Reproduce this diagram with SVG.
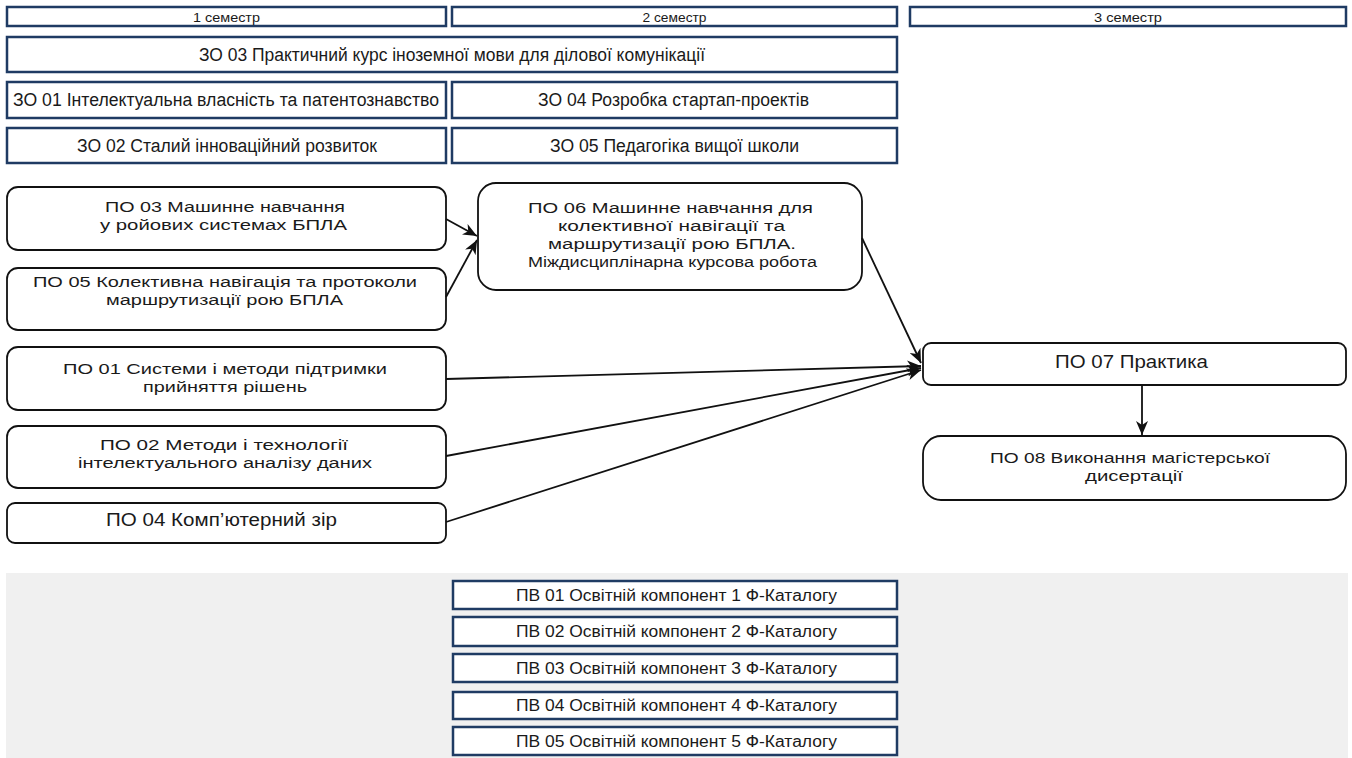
<svg xmlns="http://www.w3.org/2000/svg" width="1352" height="758" viewBox="0 0 1352 758">
<style>
text{font-family:"Liberation Sans",Arial,sans-serif;fill:#1a1a1a;text-anchor:middle}
.sq{fill:#fff;stroke:#1f3b63;stroke-width:2.5}
.rn{fill:#fff;stroke:#111;stroke-width:1.8}
.sem{font-size:13px}
.zo{font-size:18px}
.po{font-size:15.5px}
.po1{font-size:17.5px}
.pv{font-size:16px}
.cn{stroke:#111;stroke-width:1.8;fill:none;marker-end:url(#ah)}
</style>
<defs>
<marker id="ah" markerUnits="userSpaceOnUse" markerWidth="16" markerHeight="12" refX="14" refY="6" orient="auto">
<path d="M0,0 L14,6 L0,12 L4,6 Z" fill="#111"/>
</marker>
</defs>
<rect x="0" y="0" width="1352" height="758" fill="#fff"/>
<rect id="pv-band" x="6" y="573" width="1342" height="185" fill="#f0f0f0"/>

<g id="sem1"><rect class="sq" x="7" y="7" width="439" height="19"/><text class="sem" x="226.5" y="21.5" textLength="67" lengthAdjust="spacingAndGlyphs">1 семестр</text></g>
<g id="sem2"><rect class="sq" x="452" y="7" width="445" height="19"/><text class="sem" x="674.5" y="21.5" textLength="64" lengthAdjust="spacingAndGlyphs">2 семестр</text></g>
<g id="sem3"><rect class="sq" x="910" y="7" width="436" height="19"/><text class="sem" x="1128" y="21.5" textLength="68" lengthAdjust="spacingAndGlyphs">3 семестр</text></g>

<g id="zo03"><rect class="sq" x="7" y="37" width="890" height="35"/><text class="zo" x="452" y="61" textLength="506" lengthAdjust="spacingAndGlyphs">ЗО 03 Практичний курс іноземної мови для ділової комунікації</text></g>
<g id="zo01"><rect class="sq" x="7" y="82" width="439" height="36"/><text class="zo" x="226" y="106" textLength="426" lengthAdjust="spacingAndGlyphs">ЗО 01  Інтелектуальна власність та патентознавство</text></g>
<g id="zo04"><rect class="sq" x="452" y="82" width="445" height="36"/><text class="zo" x="673.5" y="106" textLength="271" lengthAdjust="spacingAndGlyphs">ЗО 04  Розробка стартап-проектів</text></g>
<g id="zo02"><rect class="sq" x="7" y="128" width="439" height="35"/><text class="zo" x="227" y="152" textLength="300" lengthAdjust="spacingAndGlyphs">ЗО 02 Сталий інноваційний розвиток</text></g>
<g id="zo05"><rect class="sq" x="452" y="128" width="445" height="35"/><text class="zo" x="674.5" y="152" textLength="249" lengthAdjust="spacingAndGlyphs">ЗО 05 Педагогіка вищої школи</text></g>

<g id="po03"><rect class="rn" x="7" y="187" width="439" height="63" rx="11"/><text class="po" x="225" y="212" textLength="240" lengthAdjust="spacingAndGlyphs">ПО 03 Машинне навчання</text><text class="po" x="223.5" y="230" textLength="247" lengthAdjust="spacingAndGlyphs">у ройових системах БПЛА</text></g>
<g id="po05"><rect class="rn" x="7" y="268" width="439" height="62" rx="11"/><text class="po" x="225" y="287" textLength="384" lengthAdjust="spacingAndGlyphs">ПО 05 Колективна навігація та протоколи</text><text class="po" x="224.5" y="305" textLength="237" lengthAdjust="spacingAndGlyphs">маршрутизації рою БПЛА</text></g>
<g id="po01"><rect class="rn" x="7" y="347" width="439" height="63" rx="11"/><text class="po" x="225" y="374" textLength="324" lengthAdjust="spacingAndGlyphs">ПО 01 Системи і методи підтримки</text><text class="po" x="225" y="392" textLength="164" lengthAdjust="spacingAndGlyphs">прийняття рішень</text></g>
<g id="po02"><rect class="rn" x="7" y="426" width="439" height="62" rx="11"/><text class="po" x="224" y="450" textLength="248" lengthAdjust="spacingAndGlyphs">ПО 02 Методи і технології</text><text class="po" x="225" y="468" textLength="294" lengthAdjust="spacingAndGlyphs">інтелектуального аналізу даних</text></g>
<g id="po04"><rect class="rn" x="7" y="503" width="439" height="40" rx="8"/><text class="po1" x="221.5" y="526" textLength="231" lengthAdjust="spacingAndGlyphs">ПО 04  Комп’ютерний зір</text></g>

<g id="po06"><rect class="rn" x="478" y="183" width="384" height="107" rx="18"/><text class="po" x="670.5" y="213" textLength="285" lengthAdjust="spacingAndGlyphs">ПО 06 Машинне навчання для</text><text class="po" x="671.5" y="231" textLength="227" lengthAdjust="spacingAndGlyphs">колективної навігації та</text><text class="po" x="672" y="249" textLength="248" lengthAdjust="spacingAndGlyphs">маршрутизації рою БПЛА.</text><text class="po" x="672.5" y="267" textLength="289" lengthAdjust="spacingAndGlyphs">Міждисциплінарна курсова робота</text></g>

<g id="po07"><rect class="rn" x="923" y="343" width="423" height="42" rx="8"/><text class="po1" x="1131.5" y="368" textLength="153" lengthAdjust="spacingAndGlyphs">ПО 07 Практика</text></g>
<g id="po08"><rect class="rn" x="923" y="436" width="423" height="64" rx="18"/><text class="po" x="1130" y="462.5" textLength="280" lengthAdjust="spacingAndGlyphs">ПО 08 Виконання магістерської</text><text class="po" x="1134" y="480.5" textLength="98" lengthAdjust="spacingAndGlyphs">дисертації</text></g>

<g id="pv01"><rect class="sq" x="453" y="581" width="444" height="28"/><text class="pv" x="676.5" y="600.5" textLength="321" lengthAdjust="spacingAndGlyphs">ПВ 01 Освітній компонент 1 Ф-Каталогу</text></g>
<g id="pv02"><rect class="sq" x="453" y="617" width="444" height="29"/><text class="pv" x="676.5" y="637" textLength="321" lengthAdjust="spacingAndGlyphs">ПВ 02 Освітній компонент 2 Ф-Каталогу</text></g>
<g id="pv03"><rect class="sq" x="453" y="654" width="444" height="28"/><text class="pv" x="676.5" y="673.5" textLength="321" lengthAdjust="spacingAndGlyphs">ПВ 03 Освітній компонент 3 Ф-Каталогу</text></g>
<g id="pv04"><rect class="sq" x="453" y="692" width="444" height="27"/><text class="pv" x="676.5" y="711" textLength="321" lengthAdjust="spacingAndGlyphs">ПВ 04 Освітній компонент 4 Ф-Каталогу</text></g>
<g id="pv05"><rect class="sq" x="453" y="727" width="444" height="28"/><text class="pv" x="676.5" y="746.5" textLength="321" lengthAdjust="spacingAndGlyphs">ПВ 05 Освітній компонент 5 Ф-Каталогу</text></g>

<g id="connectors">
<line class="cn" x1="446" y1="219" x2="477" y2="236"/>
<line class="cn" x1="446" y1="297" x2="477" y2="240"/>
<line class="cn" x1="862" y1="238" x2="921" y2="363"/>
<line class="cn" x1="446" y1="379" x2="921" y2="366"/>
<line class="cn" x1="446" y1="456" x2="921" y2="368"/>
<line class="cn" x1="446" y1="522" x2="921" y2="370"/>
<line class="cn" x1="1142" y1="385" x2="1142" y2="435"/>
</g>
</svg>
